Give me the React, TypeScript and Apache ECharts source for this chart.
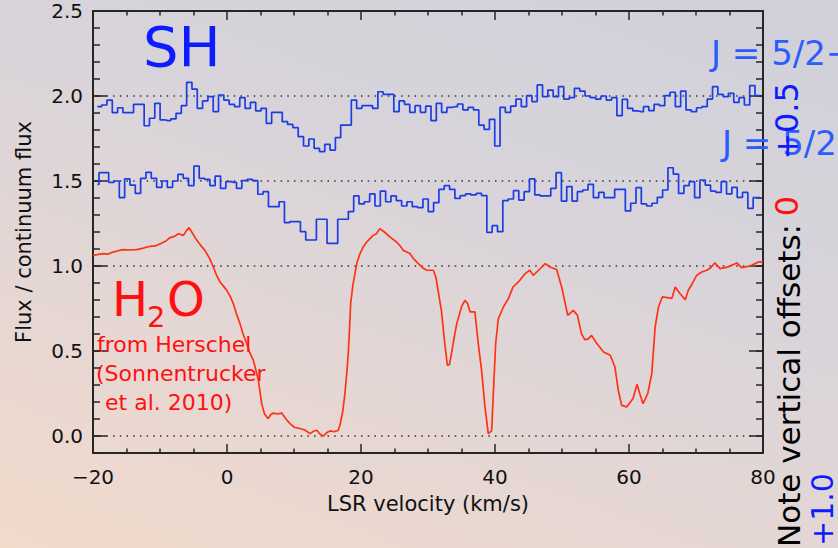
import React, { useEffect, useRef } from "react";
import * as echarts from "echarts";

// ---------- axes ----------
const X_MIN = -20;
const X_MAX = 80;
const X_TICK = 20;
const Y_MIN = -0.1;
const Y_MAX = 2.5;
const Y_MINOR = 0.1;
const Y_MAJOR_TICKS = [0, 0.5, 1.0, 1.5, 2.0, 2.5];
const REFERENCE_LEVELS = [0, 1.0, 1.5, 2.0];

// ---------- H2O (Herschel) spectrum, offset 0 ----------
const H2O_VELOCITY = [
  -20, -19.2, -18.5, -17.8, -17, -16.2, -15.5, -14.5, -13.5, -12.5, -11.5, -10.7, -10, -9.2, -8.5, -7.8,
  -7.27, -6.5, -6.1, -5.67, -5.1, -4.5, -3.9, -3.3, -2.6, -2.04, -1.5, -1.04, -0.5, -0.04, 0.5, 0.94, 1.4,
  1.94, 2.4, 2.94, 3.4, 3.93, 4.3, 4.67, 5.0, 5.18, 5.6, 6.16, 6.5, 6.9, 7.5, 8.16, 8.8, 9.4, 10.1, 10.9,
  11.6, 12.4, 12.9, 13.4, 13.9, 14.4, 14.9, 15.4, 16.0, 16.6, 16.9, 17.3, 17.6, 17.9, 18.1, 18.3, 18.46,
  18.8, 19.1, 19.4, 19.85, 20.3, 20.85, 21.3, 21.8, 22.3, 22.8, 23.5, 24.3, 25.3, 25.8, 26.3, 27.3, 27.9,
  28.55, 29.2, 29.8, 30.8, 31.2, 31.5, 32.0, 32.5, 32.9, 33.2, 33.5, 34.0, 34.3, 35.0, 35.5, 35.9, 36.3,
  37.0, 37.5, 38.0, 38.5, 39.0, 39.5, 39.75, 40.1, 40.5, 41.25, 42.0, 42.7, 43.5, 44.5, 45.2, 45.7, 46.5,
  47.5, 48.2, 49.2, 49.95, 50.85, 51.7, 52.3, 52.9, 53.4, 53.9, 54.4, 55.2, 56.2, 57.2, 57.9, 58.4, 58.9,
  59.65, 60.6, 61.2, 61.6, 62.1, 62.8, 63.4, 63.9, 64.4, 64.97, 66.4, 66.9, 67.6, 68.4, 68.85, 69.35, 70.1,
  70.85, 71.6, 72.2, 72.8, 73.6, 74.8, 76.1, 76.8, 78.1, 79.3, 80,
];
const H2O_FLUX = [
  1.063, 1.068, 1.073, 1.07, 1.082, 1.09, 1.096, 1.094, 1.096, 1.105, 1.116, 1.118, 1.13, 1.145, 1.167, 1.175,
  1.19, 1.18, 1.205, 1.226, 1.19, 1.151, 1.12, 1.092, 1.045, 0.994, 0.94, 0.906, 0.88, 0.857, 0.82, 0.779, 0.72,
  0.661, 0.6, 0.544, 0.49, 0.445, 0.39, 0.328, 0.24, 0.19, 0.13, 0.102, 0.125, 0.135, 0.13, 0.135, 0.1, 0.073, 0.05, 0.044,
  0.035, 0.014, 0.028, 0.034, 0.01, 0.0, 0.02, 0.03, 0.025, 0.034, 0.07, 0.15, 0.25, 0.38, 0.485, 0.64, 0.78,
  0.89, 0.955, 1.02, 1.073, 1.11, 1.141, 1.16, 1.18, 1.19, 1.22, 1.2, 1.171, 1.141, 1.12, 1.092, 1.073, 1.04,
  1.014, 0.99, 0.975, 0.975, 0.93, 0.857, 0.739, 0.544, 0.416, 0.42, 0.485, 0.6, 0.661, 0.759, 0.798, 0.78, 0.73,
  0.73, 0.544, 0.386, 0.171, 0.014, 0.03, 0.25, 0.544, 0.69, 0.759, 0.808, 0.877, 0.906, 0.955, 0.975, 0.945, 0.975,
  1.014, 0.994, 0.979, 0.877, 0.71, 0.739, 0.71, 0.602, 0.567, 0.57, 0.592, 0.544, 0.494, 0.475, 0.406, 0.269, 0.18,
  0.171, 0.22, 0.304, 0.25, 0.19, 0.25, 0.367, 0.641, 0.759, 0.818, 0.81, 0.877, 0.838, 0.802, 0.857, 0.89, 0.945,
  0.965, 0.975, 0.99, 1.018, 0.985, 0.995, 1.018, 0.99, 1.0, 1.024, 1.024,
];

// ---------- SH J = 5/2+ (offset +1.0), binned ----------
const SH_PLUS_FIRST_BIN = -19.103;
const SH_PLUS_BIN_WIDTH = 0.7928;
const SH_PLUS_FLUX = [
  1.937, 1.947, 1.976, 1.902, 1.931, 1.902, 1.902, 1.951, 1.951, 1.825,
  1.869, 1.957, 1.859, 1.855, 1.865, 1.898, 1.943, 2.08, 2.041, 1.927,
  1.971, 1.996, 1.908, 2.006, 1.976, 1.951, 1.937, 1.99, 1.927, 1.963,
  1.912, 1.927, 1.839, 1.904, 1.904, 1.849, 1.833, 1.814, 1.761, 1.706,
  1.747, 1.692, 1.673, 1.716, 1.682, 1.755, 1.829, 1.829, 1.976, 1.927,
  1.943, 1.943, 1.927, 2.025, 2.01, 2.01, 1.908, 1.971, 1.951, 1.904,
  1.943, 1.904,
  1.941, 1.855, 1.957, 1.904, 1.933, 1.937, 1.953, 1.918, 1.933, 1.918,
  1.829, 1.804, 1.863, 1.706, 1.933, 1.904, 1.941, 1.982, 1.937, 2.002,
  1.967, 2.065, 1.996, 2.035, 1.996, 2.055, 1.982, 1.99, 2.045, 2.029,
  2.0, 1.99, 1.982, 2.0, 1.976, 1.99, 1.884, 1.98, 1.927, 1.912,
  1.908, 1.937, 1.914, 1.951, 1.943, 2.002, 2.022, 1.937, 2.029, 1.918,
  1.908, 1.931, 1.937, 1.982, 2.055, 2.01, 1.996, 2.016, 1.963, 1.99,
  1.947, 2.061, 2.002,
];

// ---------- SH J = 5/2- (offset +0.5), binned ----------
const SH_MINUS_FIRST_BIN = -18.855;
const SH_MINUS_BIN_WIDTH = 0.795;
const SH_MINUS_LEAD_FLUX = 1.48;
const SH_MINUS_FLUX = [
  1.549, 1.549, 1.492, 1.5, 1.402, 1.512, 1.476, 1.427, 1.516, 1.551,
  1.516, 1.463, 1.5, 1.463, 1.5, 1.539, 1.516, 1.473, 1.588, 1.516,
  1.51, 1.473, 1.529, 1.457, 1.496, 1.492, 1.457, 1.502, 1.51, 1.502,
  1.422, 1.437, 1.349, 1.349, 1.378, 1.255, 1.261, 1.261, 1.202, 1.153,
  1.153, 1.275, 1.275, 1.133, 1.133, 1.275, 1.275, 1.32, 1.412, 1.365,
  1.378, 1.424, 1.353, 1.441, 1.378, 1.412, 1.384, 1.353, 1.378, 1.349,
  1.343, 1.394, 1.32, 1.373, 1.451, 1.473, 1.451, 1.398, 1.414, 1.424,
  1.418, 1.427, 1.414, 1.198, 1.237, 1.202, 1.384, 1.394, 1.443, 1.388,
  1.437, 1.512, 1.418, 1.412, 1.412, 1.457, 1.549, 1.382, 1.467, 1.382,
  1.437, 1.447, 1.48, 1.402, 1.433, 1.402, 1.402, 1.451, 1.451, 1.324,
  1.369, 1.461, 1.365, 1.353, 1.369, 1.404, 1.447, 1.578, 1.541, 1.427,
  1.473, 1.496, 1.402, 1.506, 1.476, 1.441, 1.433, 1.496, 1.424, 1.463,
  1.404, 1.433, 1.339, 1.402,
];
const SH_EDGE_LEFT = -19.35;
const SH_EDGE_RIGHT = 79.55;

// ---------- styling ----------
const FONT = "DejaVu Sans";
const AXIS_COLOR = "#262626";
const BLUE_LINE = "#1b3de6";
const RED_LINE = "#ff3214";
const BLUE_TEXT = "#0d1cff";
const J_TEXT = "#2a5cff";
const RED_TEXT = "#ff1010";

function stepData(first: number, width: number, vals: number[], lead?: number) {
  const pts = vals.map((f, i) => [first + i * width, f]);
  return [[SH_EDGE_LEFT, lead ?? vals[0]], ...pts, [SH_EDGE_RIGHT, vals[vals.length - 1]]];
}

const fmtX = (v: number) => (v < 0 ? "\u2212" + Math.abs(v) : String(v));

function xAxis(position: "bottom" | "top", labels: boolean) {
  return {
    type: "value",
    position,
    min: X_MIN,
    max: X_MAX,
    interval: X_TICK,
    axisLine: { show: true, onZero: false, lineStyle: { color: AXIS_COLOR, width: 2 } },
    axisTick: { show: true, inside: true, length: 9, lineStyle: { color: AXIS_COLOR, width: 1.5 } },
    minorTick: { show: true, splitNumber: 4, length: 4.5, lineStyle: { color: AXIS_COLOR, width: 1.5 } },
    axisLabel: {
      show: labels,
      margin: 14,
      fontSize: 20,
      fontFamily: FONT,
      color: "#111",
      formatter: fmtX,
    },
    splitLine: { show: false },
    minorSplitLine: { show: false },
  };
}

function yMajor(position: "left" | "right", labels: boolean) {
  return {
    type: "value",
    position,
    min: Y_MIN,
    max: Y_MAX,
    axisLine: { show: true, onZero: false, lineStyle: { color: AXIS_COLOR, width: 2 } },
    axisTick: {
      show: true,
      inside: true,
      length: 14,
      customValues: Y_MAJOR_TICKS,
      lineStyle: { color: AXIS_COLOR, width: 1.5 },
    },
    axisLabel: {
      show: labels,
      customValues: Y_MAJOR_TICKS,
      margin: 10,
      fontSize: 20,
      fontFamily: FONT,
      color: "#111",
      padding: [4, 0, 0, 0],
      formatter: (v: number) => v.toFixed(1),
    },
    splitLine: { show: false },
  };
}

function yMinor(position: "left" | "right") {
  return {
    type: "value",
    position,
    min: Y_MIN,
    max: Y_MAX,
    interval: Y_MINOR,
    axisLine: { show: false, onZero: false },
    axisTick: { show: true, inside: true, length: 7, lineStyle: { color: AXIS_COLOR, width: 1.5 } },
    axisLabel: { show: false },
    splitLine: { show: false },
  };
}

function txt(
  text: string,
  x: number,
  y: number,
  size: number,
  fill: string,
  align = "left",
  rotation = 0
) {
  return {
    type: "text",
    x,
    y,
    rotation,
    z: 100,
    style: { text, fill, fontSize: size, fontFamily: FONT, align, verticalAlign: "middle" },
  };
}

export default function App() {
  const ref = useRef<HTMLDivElement>(null);

  useEffect(() => {
    if (!ref.current) return;
    const chart = echarts.init(ref.current, undefined, { renderer: "svg" });
    const R = Math.PI / 2;
    const option: any = {
      animation: false,
      backgroundColor: "transparent",
      grid: { left: 93, right: 75, top: 11, bottom: 95, containLabel: false },
      xAxis: [xAxis("bottom", true), xAxis("top", false)],
      yAxis: [yMajor("left", true), yMinor("left"), yMajor("right", false), yMinor("right")],
      series: [
        {
          name: "H2O",
          type: "line",
          xAxisIndex: 0,
          yAxisIndex: 0,
          data: H2O_VELOCITY.map((v, i) => [v, H2O_FLUX[i]]),
          showSymbol: false,
          symbol: "none",
          lineStyle: { color: RED_LINE, width: 1.7 },
          z: 3,
          markLine: {
            silent: true,
            symbol: "none",
            label: { show: false },
            lineStyle: { color: "#333", width: 1.5, type: [1.5, 5.2] },
            data: REFERENCE_LEVELS.map((y) => ({ yAxis: y })),
            z: 1,
          },
        },
        {
          name: "SH J=5/2+",
          type: "line",
          step: "middle",
          xAxisIndex: 0,
          yAxisIndex: 0,
          data: stepData(SH_PLUS_FIRST_BIN, SH_PLUS_BIN_WIDTH, SH_PLUS_FLUX),
          showSymbol: false,
          symbol: "none",
          lineStyle: { color: BLUE_LINE, width: 1.7 },
          z: 4,
        },
        {
          name: "SH J=5/2-",
          type: "line",
          step: "middle",
          xAxisIndex: 0,
          yAxisIndex: 0,
          data: stepData(SH_MINUS_FIRST_BIN, SH_MINUS_BIN_WIDTH, SH_MINUS_FLUX, SH_MINUS_LEAD_FLUX),
          showSymbol: false,
          symbol: "none",
          lineStyle: { color: BLUE_LINE, width: 1.7 },
          z: 4,
        },
      ],
      graphic: [
        txt("Flux / continuum flux", 24, 232, 21, "#111", "center", R),
        txt("LSR velocity (km/s)", 428, 504, 21, "#111", "center"),
        txt("SH", 143, 46, 56, BLUE_TEXT),
        txt("H", 112, 299, 48, RED_TEXT),
        txt("2", 147, 317, 29, RED_TEXT),
        txt("O", 167, 299, 48, RED_TEXT),
        txt("from Herschel", 97, 344, 22, RED_TEXT),
        txt("(Sonnentrucker", 96, 373, 22, RED_TEXT),
        txt("et al. 2010)", 105, 402, 22, RED_TEXT),
        txt("J = 5/2+", 711, 53, 34, J_TEXT),
        txt("J = 5/2\u2212", 722, 143, 34, J_TEXT),
        txt("Note vertical offsets:", 789, 547, 31, "#000", "left", R),
        txt("0", 787, 206, 32, RED_TEXT, "center", R),
        txt("+0.5", 787, 121, 32, BLUE_TEXT, "center", R),
        txt("+1.0", 822, 546, 30, BLUE_TEXT, "left", R),
      ],
    };
    chart.setOption(option);
    return () => chart.dispose();
  }, []);

  return (
    <div
      style={{
        position: "fixed",
        left: 0,
        top: 0,
        width: 838,
        height: 548,
        overflow: "hidden",
        background: "linear-gradient(200deg, #d0d0da 0%, #d9d4da 40%, #e6d7d3 70%, #f2dacb 100%)",
      }}
    >
      <div ref={ref} style={{ width: 838, height: 548 }} />
    </div>
  );
}
